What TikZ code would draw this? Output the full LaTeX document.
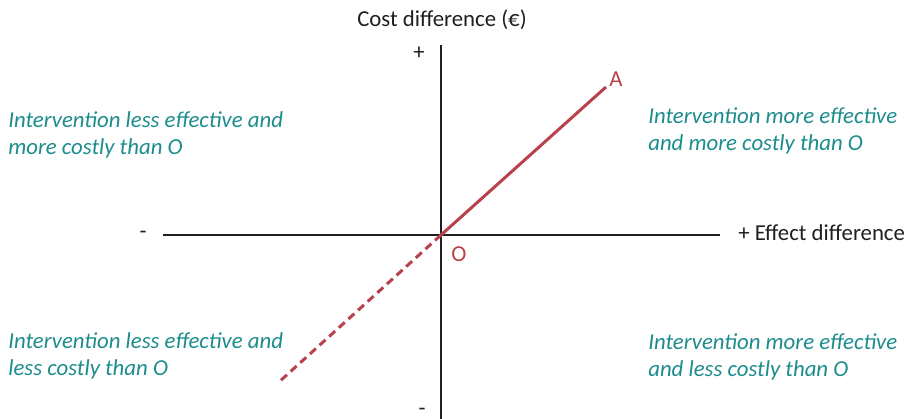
\documentclass[tikz,border=0pt]{standalone}
\usepackage{fontspec}
\setmainfont{Carlito}
\usetikzlibrary{positioning}
\definecolor{icered}{RGB}{184,66,76}
\definecolor{quadteal}{RGB}{28,140,140}
\tikzset{
  every picture/.style={line width=0.6pt},
  axis/.style={line width=2pt,draw=black!88},
  icer/.style={line width=3pt,draw=icered},
  icerdash/.style={icer,dash pattern=on 8pt off 5pt},
  quad/.style={font=\itshape\fontsize{22.8}{27}\selectfont,text=quadteal,align=left,anchor=north west,inner sep=0pt},
  lbl/.style={font=\fontsize{22.8}{27}\selectfont,text=black!88,inner sep=1pt},
  pt/.style={lbl,text=icered},
}

\begin{document}
\begin{tikzpicture}[x=1pt,y=-1pt]
\useasboundingbox (0,0) rectangle (914,419);
% --- axes ---
\coordinate (O) at (441,235);
\coordinate (ytop) at (441,45);
\coordinate (ybot) at (441,419);
\coordinate (xl) at (163,235);
\coordinate (xr) at (720,235);
\draw[axis] (ytop) -- (ybot);
\draw[axis] (xl) -- (xr);
\node[lbl] (ylab) at (442,20) {Cost difference (€)};
\node[lbl] (yplus) at (419,53) {+};
\node[lbl,inner sep=0pt] (yminus) at (422,412) {-};
\node[lbl] (xminus) at (143,235) {-};
\node[lbl,anchor=west] (xlab) at (737,233) {+ Effect difference};
% --- ICER line ---
\coordinate (A) at (606,87);
\coordinate (D) at (279,382);
\draw[icer] (O) -- (A);
\draw[icerdash] (O) -- (D);
\node[pt] (Olab) at (459,254) {O};
\node[pt] (Alab) at (616,79) {A};
% --- quadrants ---
\node[quad] (NW) at (8,111) {Intervention less effective and\\more costly than O};
\node[quad] (NE) at (648,107) {Intervention more effective\\and more costly than O};
\node[quad] (SW) at (8,332) {Intervention less effective and\\less costly than O};
\node[quad] (SE) at (648,333) {Intervention more effective\\and less costly than O};
\end{tikzpicture}
\end{document}
